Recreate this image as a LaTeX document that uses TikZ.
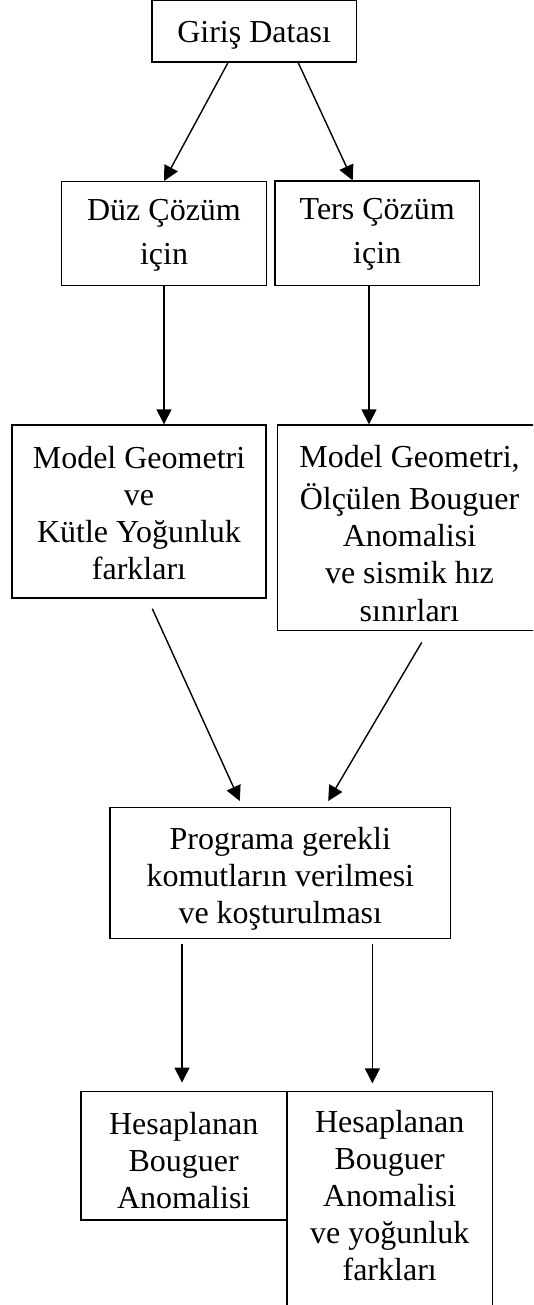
\documentclass[tikz,border=0pt]{standalone}
\usepackage{fontspec}
\setmainfont{Liberation Serif}
\usetikzlibrary{arrows.meta}
\newcommand\myhstrut[1]{\rule{0pt}{#1}}
\begin{document}
\begin{tikzpicture}[x=1pt,y=-1pt,
  box/.style={draw, line width=1.4pt, inner sep=0pt, align=center,
    font=\fontsize{32}{37}\selectfont},
  conn/.style={line width=1.4pt, -{Triangle[length=15pt,width=15pt]}}]
\useasboundingbox (0,0) rectangle (533,1305);
\clip (0,0) rectangle (533,1305);
% boxes
\node[box, minimum width=204.5, minimum height=61.5] (gir) at (254.2,31.4) {\myhstrut{30pt}Giriş Datası};
\node[box, minimum width=204.7, minimum height=103.6] (duz) at (164,233.5) {\myhstrut{24pt}Düz Çözüm\\[7pt]için};
\node[box, minimum width=204.8, minimum height=104.3] (ters) at (377.2,233.2) {\myhstrut{24pt}Ters Çözüm\\[7pt]için};
\node[box, minimum width=254, minimum height=173] (mgl) at (139,511.5) {\myhstrut{25pt}Model Geometri\\ve\\Kütle Yoğunluk\\farkları};
\node[box, minimum width=264.6, minimum height=205.7] (mgr) at (409.5,527.9) {\myhstrut{34pt}Model Geometri,\\[5pt]Ölçülen Bouguer\\Anomalisi\\ve sismik hız\\[1pt]sınırları};
\node[box, minimum width=340.8, minimum height=130.6] (prog) at (280.3,873) {\myhstrut{33pt}Programa gerekli\\komutların verilmesi\\ve koşturulması};
\node[box, minimum width=205.4, minimum height=128.3] (hl) at (183.7,1155.8) {\myhstrut{31.3pt}Hesaplanan\\Bouguer\\Anomalisi};
\node[box, draw=none, anchor=north, minimum width=204, inner ysep=18pt] (hr) at (389.7,1091.7) {Hesaplanan\\Bouguer\\Anomalisi\\ve yoğunluk\\farkları};
\coordinate (hrbot) at (0,1340);
\draw[line width=1.4pt] (hr.north west |- hrbot) -- (hr.north west) -- (hr.north east) -- (hr.north east |- hrbot);
% connector end points
\coordinate (p1) at ([xshift=-98.3pt,yshift=-5pt]prog.south);
\coordinate (p2) at ([xshift=92.1pt,yshift=-5pt]prog.south);
\coordinate (hlt) at ([yshift=8.4pt]hl.north);
\coordinate (hrt) at ([yshift=8.4pt]hr.north);
% connectors
\draw[conn] ([xshift=-26.3pt]gir.south) -- (duz.north);
\draw[conn] ([xshift=44.1pt]gir.south) -- ([xshift=-24.5pt]ters.north);
\draw[conn] (duz.south) -- (duz.south |- mgl.north);
\draw[conn] ([xshift=-8.2pt]ters.south) -- ([xshift=-8.2pt]ters.south |- mgr.north);
\draw[conn] ([xshift=13.3pt,yshift=-10pt]mgl.south) -- ([xshift=-40.5pt,yshift=6pt]prog.north);
\draw[conn] ([xshift=12.2pt,yshift=-11pt]mgr.south) -- ([xshift=47.9pt,yshift=6pt]prog.north);
\draw[conn] (p1) -- (p1 |- hlt);
\draw[conn] (p2) -- (p2 |- hrt);
\end{tikzpicture}
\end{document}
